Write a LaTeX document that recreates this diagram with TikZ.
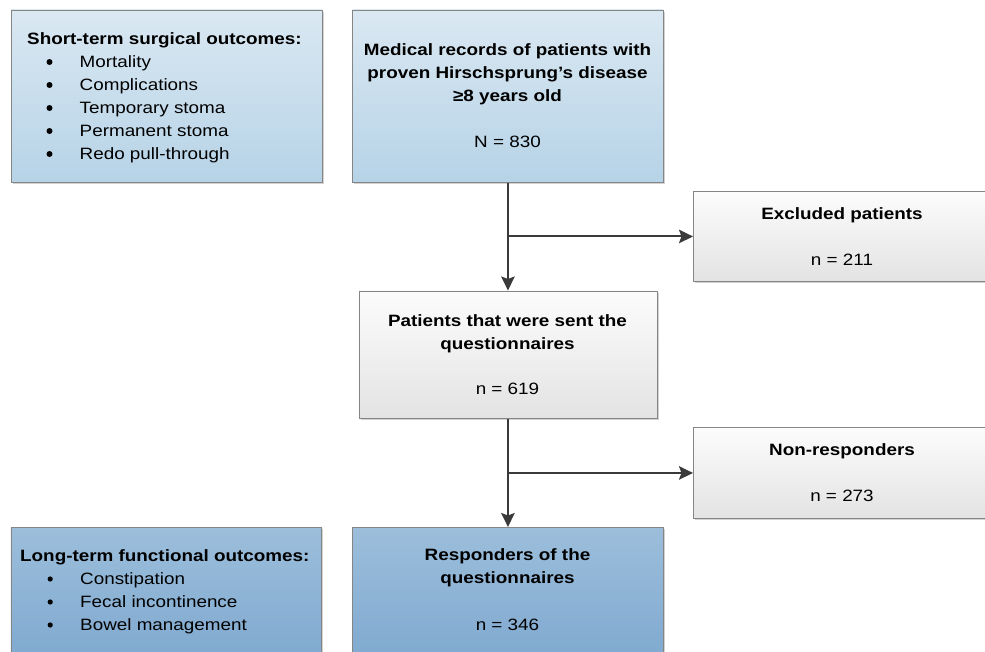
\documentclass[tikz,border=0pt]{standalone}
\usepackage{fontspec}
\setmainfont{Liberation Sans}[FakeStretch=1.15]
\usetikzlibrary{arrows.meta,shadows}
\definecolor{lbtop}{HTML}{DAE8F2}
\definecolor{lbbot}{HTML}{B6D3E7}
\definecolor{gytop}{HTML}{FCFCFC}
\definecolor{gybot}{HTML}{E3E3E3}
\definecolor{dbtop}{HTML}{9CBEDB}
\definecolor{dbbot}{HTML}{7EA8CF}
\definecolor{boxline}{HTML}{858585}
\definecolor{arrowcol}{HTML}{3A3A3A}
\newcommand{\mybullet}[1]{\tikz[baseline=-5pt,x=1pt,y=1pt]\fill[black] (0,0) circle (#1);}
\begin{document}
\begin{tikzpicture}[x=1pt,y=-1pt,
  box/.style={draw=boxline, line width=0.9pt, shading=axis, inner sep=0pt, anchor=north west,
    drop shadow={shadow xshift=1.6pt, shadow yshift=-1.6pt, fill=black!35, opacity=0.5}},
  lightbox/.style={box, top color=lbtop, bottom color=lbbot},
  greybox/.style={box, top color=gytop, bottom color=gybot},
  darkbox/.style={box, top color=dbtop, bottom color=dbbot},
  txt/.style={inner sep=0pt, font=\fontsize{16.4}{23}\selectfont, text=black},
  flow/.style={draw=arrowcol, line width=2pt, -{Stealth[length=14pt,width=13.5pt,inset=2.5pt]}}
]
\useasboundingbox (0,0) rectangle (985,651);
% boxes
\node[lightbox, minimum width=311pt, minimum height=172.5pt] (short) at (10.7,9.5) {};
\node[lightbox, minimum width=311pt, minimum height=172.5pt] (med) at (352,9.5) {};
\node[greybox, minimum width=320pt, minimum height=90pt] (excl) at (693,191) {};
\node[greybox, minimum width=298.5pt, minimum height=127.5pt] (pat) at (358.5,290.5) {};
\node[greybox, minimum width=320pt, minimum height=91pt] (nonr) at (693,427) {};
\node[darkbox, minimum width=310pt, minimum height=140pt] (long) at (10.5,527) {};
\node[darkbox, minimum width=311pt, minimum height=140pt] (resp) at (352,527) {};
% texts (base anchor = baseline of the last line)
\node[txt, anchor=base west, align=left] (shorttxt) at (27,159)
  {\textbf{Short-term surgical outcomes:}\\
   \hspace*{19.3pt}\makebox[33.2pt][l]{\mybullet{3pt}}Mortality\\
   \hspace*{19.3pt}\makebox[33.2pt][l]{\mybullet{3pt}}Complications\\
   \hspace*{19.3pt}\makebox[33.2pt][l]{\mybullet{3pt}}Temporary stoma\\
   \hspace*{19.3pt}\makebox[33.2pt][l]{\mybullet{3pt}}Permanent stoma\\
   \hspace*{19.3pt}\makebox[33.2pt][l]{\mybullet{3pt}}Redo pull-through};
\node[txt, anchor=base, align=center] (medtxt) at (507.5,147)
  {\textbf{Medical records of patients with}\\
   \textbf{proven Hirschsprung’s disease}\\
   \textbf{≥8 years old}\\[23pt]
   N = 830};
\node[txt, anchor=base, align=center] (excltxt) at (842,265)
  {\textbf{Excluded patients}\\[23pt] n = 211};
\node[txt, anchor=base, align=center] (pattxt) at (507.5,394)
  {\textbf{Patients that were sent the}\\
   \textbf{questionnaires}\\[22pt]
   n = 619};
\node[txt, anchor=base, align=center] (nonrtxt) at (842,501)
  {\textbf{Non-responders}\\[23pt] n = 273};
\node[txt, anchor=base west, align=left] (longtxt) at (20,630)
  {\textbf{Long-term functional outcomes:}\\
   \hspace*{27.4pt}\makebox[32.6pt][l]{\mybullet{2.6pt}}Constipation\\
   \hspace*{27.4pt}\makebox[32.6pt][l]{\mybullet{2.6pt}}Fecal incontinence\\
   \hspace*{27.4pt}\makebox[32.6pt][l]{\mybullet{2.6pt}}Bowel management};
\node[txt, anchor=base, align=center] (resptxt) at (507.5,630)
  {\textbf{Responders of the}\\
   \textbf{questionnaires}\\[24pt]
   n = 346};
% connectors
\coordinate (b1) at (med.south |- excl.west);
\coordinate (b2) at (med.south |- nonr.west);
\draw[flow] (med.south) -- (pat.north -| med.south);
\draw[flow] (b1) -- (excl.west);
\draw[flow] (pat.south -| med.south) -- (resp.north -| med.south);
\draw[flow] (b2) -- (nonr.west);
\end{tikzpicture}
\end{document}
